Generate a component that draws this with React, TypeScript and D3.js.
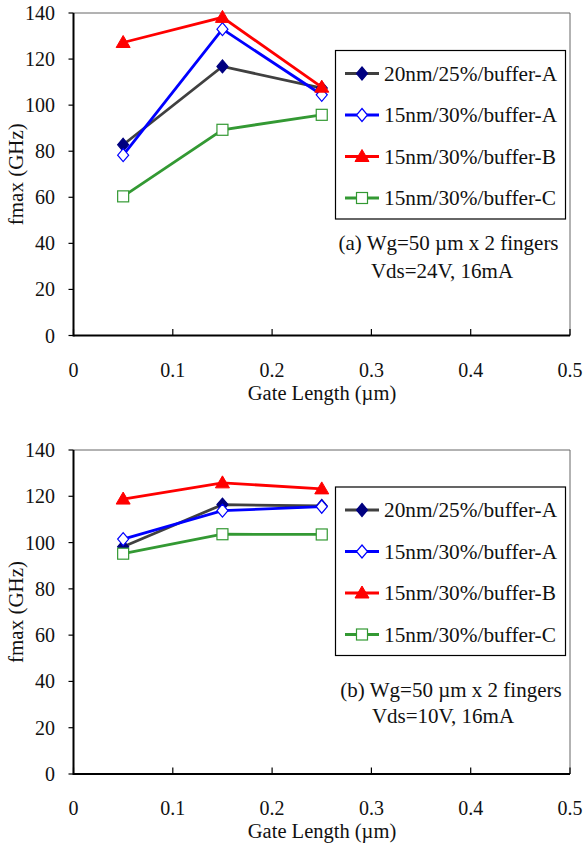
import React, { useEffect, useRef } from "react";
import * as d3 from "d3";

const gateLengths = [0.05, 0.15, 0.25];
const seriesNames = ["20nm/25%/buffer-A", "15nm/30%/buffer-A", "15nm/30%/buffer-B", "15nm/30%/buffer-C"];

// panel (a) Vds=24V
const fmaxA_20nm_bufA = [82.8, 116.8, 107.4];
const fmaxA_15nm_bufA = [78.3, 133, 104.5];
const fmaxA_15nm_bufB = [127.2, 138.1, 107.8];
const fmaxA_15nm_bufC = [60.4, 89.3, 95.8];

// panel (b) Vds=10V
const fmaxB_20nm_bufA = [98.2, 116.4, 115.8];
const fmaxB_15nm_bufA = [101.5, 113.8, 115.5];
const fmaxB_15nm_bufB = [118.8, 125.8, 123.2];
const fmaxB_15nm_bufC = [95.2, 103.6, 103.5];

const xTicks = [0, 0.1, 0.2, 0.3, 0.4, 0.5];
const yTicks = [0, 20, 40, 60, 80, 100, 120, 140];

const styles = [
    { line: "#404040", marker: "diamond", fill: "#000080", stroke: "#000080" },
    { line: "#0000ff", marker: "diamond", fill: "#ffffff", stroke: "#0000ff" },
    { line: "#ff0000", marker: "triangle", fill: "#ff0000", stroke: "#ff0000" },
    { line: "#339933", marker: "square", fill: "#ffffff", stroke: "#339933" },
];

const FONT = "'Liberation Serif', 'Times New Roman', serif";

function drawMarker(g: any, type: string, cx: number, cy: number, st: any) {
    if (type === "diamond") {
        g.append("path")
            .attr("d", `M${cx},${cy - 6.5}L${cx + 5.5},${cy}L${cx},${cy + 6.5}L${cx - 5.5},${cy}Z`)
            .attr("fill", st.fill).attr("stroke", st.stroke).attr("stroke-width", 1.2);
    } else if (type === "triangle") {
        g.append("path")
            .attr("d", `M${cx},${cy - 7}L${cx + 7},${cy + 5}L${cx - 7},${cy + 5}Z`)
            .attr("fill", st.fill).attr("stroke", st.stroke).attr("stroke-width", 1);
    } else {
        g.append("rect")
            .attr("x", cx - 5.5).attr("y", cy - 5.5).attr("width", 11).attr("height", 11)
            .attr("fill", st.fill).attr("stroke", st.stroke).attr("stroke-width", 1.2);
    }
}

function drawPanel(svg: any, p: any) {
    const { top, bottom, series, note1, note2, legendTop, note1Y, note2Y } = p;
    const left = 73.5;
    const right = 570;
    const x = d3.scaleLinear().domain([0, 0.5]).range([left, right]);
    const y = d3.scaleLinear().domain([0, 140]).range([bottom, top]);

    const g = svg.append("g");

    // frame top/right
    g.append("line").attr("x1", left).attr("x2", right).attr("y1", top).attr("y2", top)
        .attr("stroke", "#666").attr("stroke-width", 1);
    g.append("line").attr("x1", right).attr("x2", right).attr("y1", top).attr("y2", bottom)
        .attr("stroke", "#666").attr("stroke-width", 1);

    // y ticks (outward)
    yTicks.forEach(t => {
        g.append("line").attr("x1", left - 5).attr("x2", left).attr("y1", y(t)).attr("y2", y(t))
            .attr("stroke", "#000").attr("stroke-width", 1.2);
        g.append("text").attr("x", left - 18.5).attr("y", y(t)).attr("dy", "0.35em")
            .attr("text-anchor", "end").attr("font-family", FONT).attr("font-size", 20)
            .attr("fill", "#111").text(String(t));
    });

    // x ticks (inward)
    xTicks.forEach(t => {
        g.append("line").attr("x1", x(t)).attr("x2", x(t)).attr("y1", bottom - 6.5).attr("y2", bottom)
            .attr("stroke", "#000").attr("stroke-width", 1.2);
        g.append("text").attr("x", x(t)).attr("y", bottom + 41)
            .attr("text-anchor", "middle").attr("font-family", FONT).attr("font-size", 20)
            .attr("fill", "#111").text(String(t));
    });

    // axes
    g.append("line").attr("x1", left).attr("x2", left).attr("y1", top).attr("y2", bottom + 1)
        .attr("stroke", "#000").attr("stroke-width", 2);
    g.append("line").attr("x1", left).attr("x2", right).attr("y1", bottom).attr("y2", bottom)
        .attr("stroke", "#000").attr("stroke-width", 2);

    // axis titles
    g.append("text").attr("x", 322).attr("y", bottom + 64)
        .attr("text-anchor", "middle").attr("font-family", FONT).attr("font-size", 20.5)
        .attr("fill", "#111").text("Gate Length (\u00b5m)");
    g.append("text")
        .attr("transform", `translate(23,${(top + bottom) / 2}) rotate(-90)`)
        .attr("text-anchor", "middle").attr("font-family", FONT).attr("font-size", 21)
        .attr("fill", "#111").text("fmax (GHz)");

    const line = d3.line<number>().x((d, i) => x(gateLengths[i])).y(d => y(d));

    series.forEach((vals: number[], si: number) => {
        const st = styles[si];
        g.append("path").attr("d", line(vals)).attr("fill", "none")
            .attr("stroke", st.line).attr("stroke-width", 2.8);
        vals.forEach((v, i) => drawMarker(g, st.marker, x(gateLengths[i]), y(v), st));
    });

    // legend
    const lx = 335.5, lw = 230, lh = 168.5;
    g.append("rect").attr("x", lx).attr("y", legendTop).attr("width", lw).attr("height", lh)
        .attr("fill", "#fff").attr("stroke", "#000").attr("stroke-width", 1.2);
    seriesNames.forEach((name, si) => {
        const st = styles[si];
        const ly = legendTop + 23 + si * 41.5;
        g.append("line").attr("x1", 345).attr("x2", 379).attr("y1", ly).attr("y2", ly)
            .attr("stroke", st.line).attr("stroke-width", 2.8);
        drawMarker(g, st.marker, 362, ly, st);
        g.append("text").attr("x", 384).attr("y", ly).attr("dy", "0.35em")
            .attr("font-family", FONT).attr("font-size", 21.3).attr("fill", "#111").text(name);
    });

    // annotation
    g.append("text").attr("x", note1[1]).attr("y", note1Y)
        .attr("text-anchor", "middle").attr("font-family", FONT).attr("font-size", 21)
        .attr("fill", "#111").text(note1[0]);
    g.append("text").attr("x", note2[1]).attr("y", note2Y)
        .attr("text-anchor", "middle").attr("font-family", FONT).attr("font-size", 21)
        .attr("fill", "#111").text(note2[0]);
}

export default function App() {
    const ref = useRef<HTMLDivElement>(null);

    useEffect(() => {
        const width = 584;
        const height = 847;
        d3.select(ref.current).select("svg").remove();
        const svg = d3.select(ref.current).append("svg")
            .attr("width", width).attr("height", height)
            .attr("viewBox", [0, 0, width, height])
            .style("display", "block")
            .style("background", "#fff");

        drawPanel(svg, {
            top: 13, bottom: 335.5,
            series: [fmaxA_20nm_bufA, fmaxA_15nm_bufA, fmaxA_15nm_bufB, fmaxA_15nm_bufC],
            note1: ["(a) Wg=50 \u00b5m x 2 fingers", 448.5], note2: ["Vds=24V, 16mA", 442],
            legendTop: 50.5, note1Y: 250, note2Y: 278,
        });
        drawPanel(svg, {
            top: 450, bottom: 774,
            series: [fmaxB_20nm_bufA, fmaxB_15nm_bufA, fmaxB_15nm_bufB, fmaxB_15nm_bufC],
            note1: ["(b) Wg=50 \u00b5m x 2 fingers", 451], note2: ["Vds=10V, 16mA", 443],
            legendTop: 487, note1Y: 697, note2Y: 723,
        });
    }, []);

    return <div ref={ref} style={{ position: "absolute", left: 0, top: 0, background: "#fff" }}></div>;
}
